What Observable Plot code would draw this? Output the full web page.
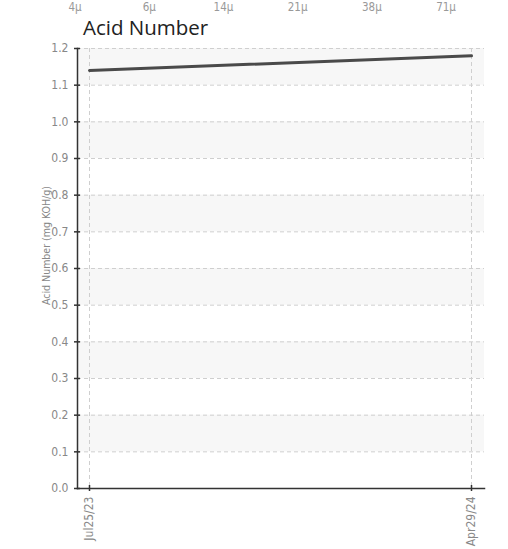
<!DOCTYPE html>
<html>
<head>
<meta charset="utf-8">
<script src="https://cdn.jsdelivr.net/npm/d3@7"></script>
<script src="https://cdn.jsdelivr.net/npm/@observablehq/plot@0.6"></script>
<style>
  body { margin: 0; background: #fff; }
  #wrap { position: relative; width: 508px; height: 549px; overflow: hidden; }
  #microns { position: absolute; top: 0px; left: 38px; display: flex; font-family: "DejaVu Sans Condensed", "DejaVu Sans", sans-serif; font-stretch: condensed; font-size: 11.5px; color: #999; }
  #microns span { width: 74.2px; text-align: center; }
  #title { position: absolute; top: 13px; left: 83px; font-family: "Open Sans", sans-serif; font-size: 20.5px; color: #222; }
  #chart { position: absolute; top: 0; left: 0; }
  #chart svg text { font-stretch: condensed; }
</style>
</head>
<body>
<div id="wrap">
  <div id="chart"></div>
  <div id="microns"></div>
  <div id="title">Acid Number</div>
</div>
<script>
const micronLabels = ["4μ", "6μ", "14μ", "21μ", "38μ", "71μ"];
const dates = ["2023-07-25", "2024-04-29"];
const values = [1.14, 1.18];
const yTicks = [0, 0.1, 0.2, 0.3, 0.4, 0.5, 0.6, 0.7, 0.8, 0.9, 1.0, 1.1, 1.2];
const bandStarts = [0.1, 0.3, 0.5, 0.7, 0.9, 1.1];
const title = "Acid Number";
const yLabel = "Acid Number (mg KOH/g)";

document.getElementById("microns").innerHTML = micronLabels.map(d => `<span>${d}</span>`).join("");
document.getElementById("title").textContent = title;

const parse = d3.utcParse("%Y-%m-%d");
const data = dates.map((d, i) => ({date: parse(d), value: values[i]}));
const bands = bandStarts.map(b => ({y1: b, y2: +(b + 0.1).toFixed(1)}));
const fmt = d3.utcFormat("%b%d/%y");
const font = "'DejaVu Sans Condensed', 'DejaVu Sans', sans-serif";

const chart = Plot.plot({
  width: 508,
  height: 549,
  marginLeft: 77,
  marginRight: 24,
  marginTop: 48,
  marginBottom: 61,
  style: {fontFamily: font, background: "transparent"},
  x: {type: "utc", domain: [data[0].date, data[data.length - 1].date], insetLeft: 12, insetRight: 13},
  y: {domain: [0, 1.2]},
  marks: [
    Plot.rect(bands, {y1: "y1", y2: "y2", fill: "#f7f7f7"}),
    Plot.gridY(yTicks, {stroke: "#cfcfcf", strokeOpacity: 1, strokeDasharray: "4,3"}),
    Plot.gridX(data.map(d => d.date), {stroke: "#cfcfcf", strokeOpacity: 1, strokeDasharray: "4,3"}),
    Plot.axisY(yTicks, {
      tickSize: 3, tickPadding: 6, tickFormat: d => d.toFixed(1),
      fontSize: 12, color: "#888", stroke: "#333", strokeWidth: 1.5,
      label: null
    }),
    Plot.axisY(yTicks, {tickSize: 3, dx: 3, text: null, stroke: "#333", strokeWidth: 1.5, label: null}),
    Plot.text([yLabel], {
      frameAnchor: "left", textAnchor: "middle", dx: -31, dy: -23, rotate: -90,
      fontSize: 10.5, fill: "#888", text: d => d
    }),
    Plot.axisX(data.map(d => d.date), {
      tickSize: 3, tickPadding: 5, tickFormat: fmt, tickRotate: -90,
      fontSize: 12, color: "#888", stroke: "#333", strokeWidth: 1.5, label: null
    }),
    Plot.axisX(data.map(d => d.date), {tickSize: 3, dy: -3, text: null, stroke: "#333", strokeWidth: 1.5, label: null}),
    Plot.frame({anchor: "left", stroke: "#333", strokeWidth: 1.5}),
    Plot.frame({anchor: "bottom", stroke: "#333", strokeWidth: 1.5}),
    Plot.line(data, {x: "date", y: "value", stroke: "#4a4a4a", strokeWidth: 3})
  ]
});
document.getElementById("chart").appendChild(chart);
</script>
</body>
</html>
